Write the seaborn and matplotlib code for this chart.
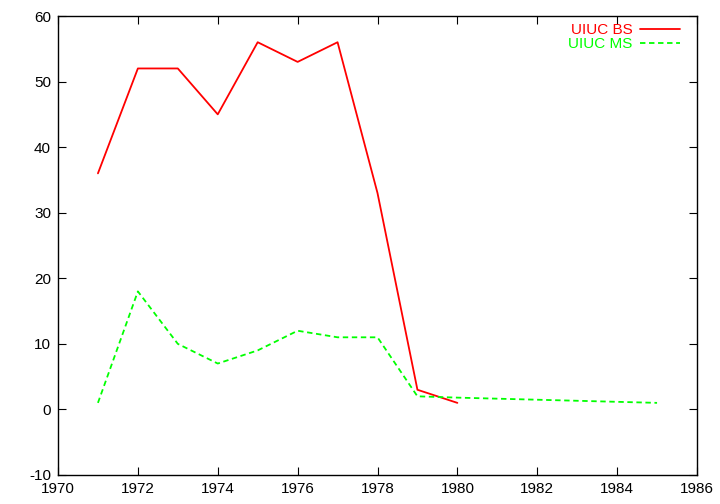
import matplotlib
matplotlib.use("Agg")
import matplotlib.pyplot as plt
import seaborn as sns
import pandas as pd

bs_years = [1971, 1972, 1973, 1974, 1975, 1976, 1977, 1978, 1979, 1980]
bs_values = [36, 52, 52, 45, 56, 53, 56, 33, 3, 1]
ms_years = [1971, 1972, 1973, 1974, 1975, 1976, 1977, 1978, 1979, 1980, 1985]
ms_values = [1, 18, 10, 7, 9, 12, 11, 11, 2, 1.8, 1]

sns.set_style("ticks")
plt.rcParams['font.family'] = ['Liberation Sans', 'DejaVu Sans']
plt.rcParams['axes.unicode_minus'] = False

fig = plt.figure(figsize=(7.2, 5.04), dpi=100)
ax = fig.add_axes([58/720, 1-475/504, (697-58)/720, (475-16)/504])

bs = pd.DataFrame({"year": bs_years, "value": bs_values})
ms = pd.DataFrame({"year": ms_years, "value": ms_values})
sns.lineplot(data=bs, x="year", y="value", ax=ax, color="#ff0000", lw=1.3, label="UIUC BS")
sns.lineplot(data=ms, x="year", y="value", ax=ax, color="#00ff00", lw=1.3, ls=(0, (3, 2)), label="UIUC MS")

ax.set_xlim(1970, 1986)
ax.set_ylim(-10, 60)
ax.set_xticks(range(1970, 1987, 2))
ax.set_yticks(range(-10, 61, 10))
ax.set_xlabel("")
ax.set_ylabel("")
ax.tick_params(direction="in", top=True, right=True, length=6, labelsize=11, pad=5, width=0.8,
               colors="black", labelcolor="black")
for s in ax.spines.values():
    s.set_color("black")
    s.set_linewidth(1.0)

leg = ax.legend(loc="upper right", frameon=False, markerfirst=False, labelcolor="linecolor",
                fontsize=11, handlelength=2.6, handletextpad=0.5, borderaxespad=0.3,
                labelspacing=0.0, bbox_to_anchor=(0.99, 1.008))
for t in leg.get_texts():
    t.set_ha("right")

fig.savefig("out.png", dpi=100)
